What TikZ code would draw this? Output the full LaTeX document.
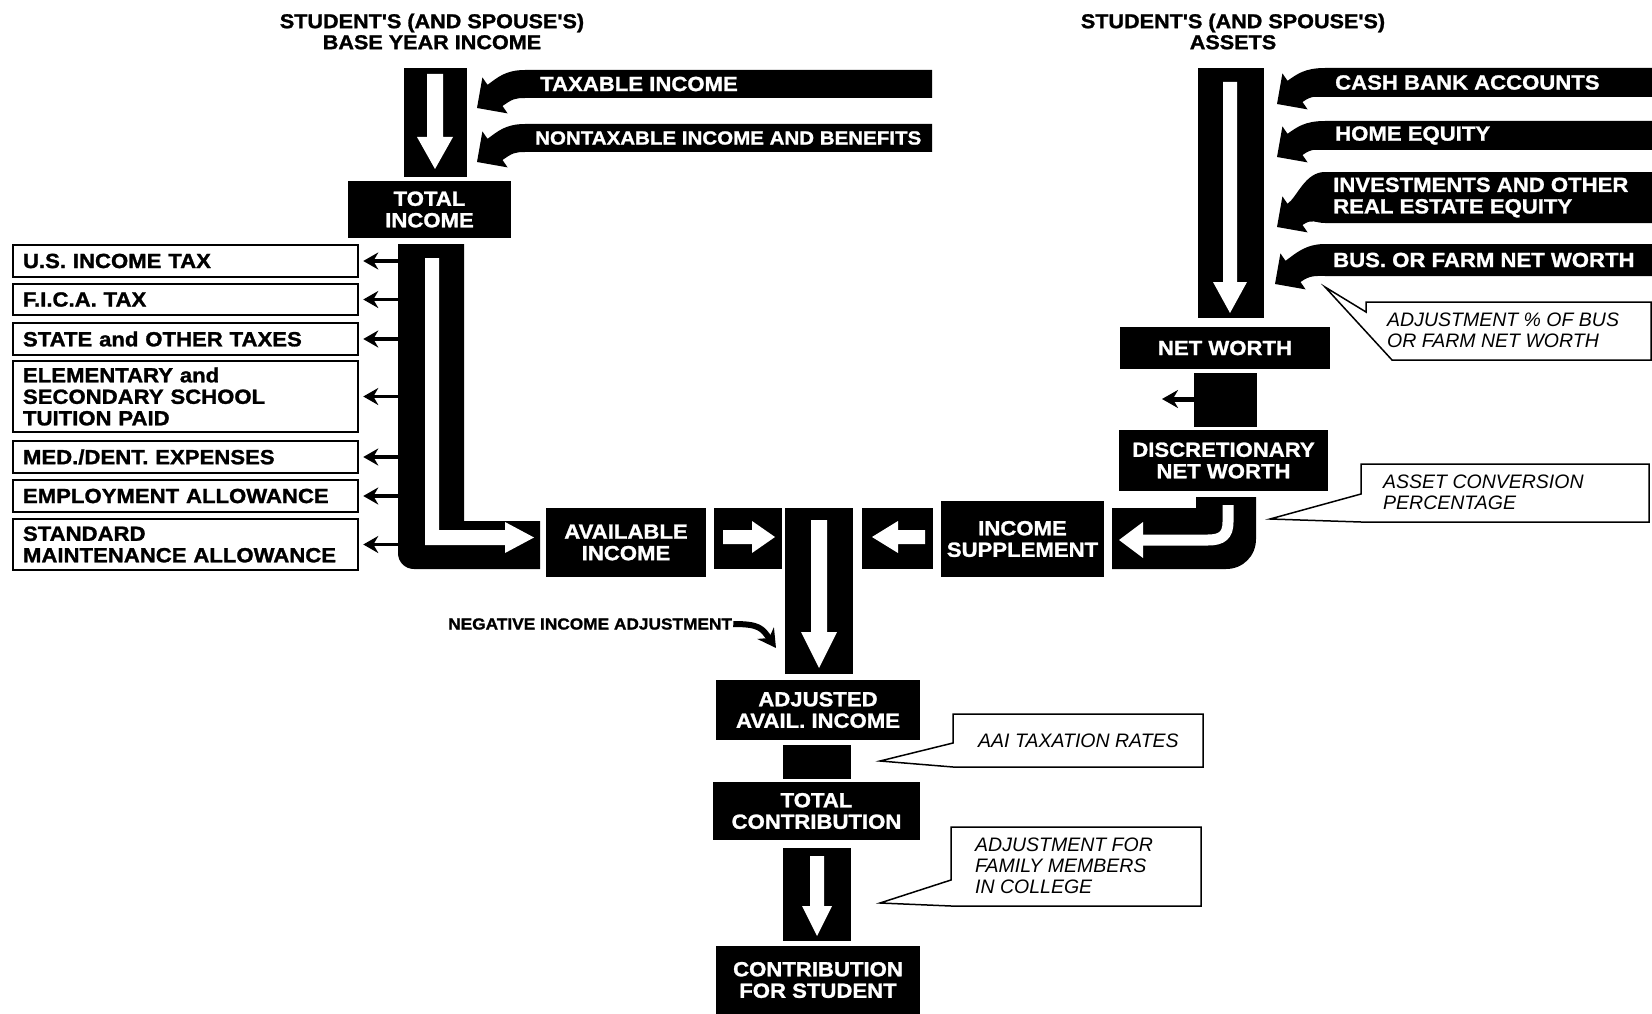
\documentclass[tikz,border=0pt]{standalone}
\usepackage{fontspec}
\newfontfamily\hv{Liberation Sans}[FakeStretch=1.08,FakeBold=1.3]
\newfontfamily\hvi{Liberation Sans}
\usetikzlibrary{arrows.meta}
% white block arrows
\newcommand\dnarr[6]{\fill[white] ({#1-#5},#2) -- ({#1+#5},#2) -- ({#1+#5},#3) -- ({#1+#6},#3) -- (#1,#4) -- ({#1-#6},#3) -- ({#1-#5},#3) -- cycle;}
\newcommand\hzarr[6]{\fill[white] (#2,{#1-#5}) -- (#3,{#1-#5}) -- (#3,{#1-#6}) -- (#4,#1) -- (#3,{#1+#6}) -- (#3,{#1+#5}) -- (#2,{#1+#5}) -- cycle;}
% black band with curved head: xR, T, B, xL, Ex, Ey
\newcommand\bandarr[6]{\fill (#1,#2) -- (#4,#2) .. controls ({#4-20},#2) and ({#5+2.3},{#6-17.5}) .. ({#5-7.5},{#6-10.6}) -- ({#5-12.6},{#6-18}) -- ({#5-18},{#6+12.6}) -- ({#5+12.6},{#6+18}) -- ({#5+7.5},{#6+10.6}) .. controls ({#5+17.3},{#6+3.7}) and ({#4-10},#3) .. (#4,#3) -- (#1,#3) -- cycle;}
\begin{document}
\begin{tikzpicture}[x=1pt,y=-1pt,
  boxfont/.style={font=\hv\bfseries\fontsize{20.5}{21.5}\selectfont},
  blk/.style={boxfont, fill=black, text=white, inner sep=0pt, align=center},
  ded/.style={boxfont, draw=black, line width=2.5pt, fill=white, text=black, inner xsep=10pt, inner ysep=0pt, text width=325pt, align=left},
  bandtxt/.style={boxfont, text=white, inner sep=0pt, anchor=west, align=left},
  ttl/.style={font=\hv\bfseries\fontsize{20}{21}\selectfont, align=center, inner sep=0pt},
  ctxt/.style={font=\hvi\itshape\fontsize{19.5}{21}\selectfont, align=left, anchor=west, inner sep=0pt},
  callout/.style={draw=black, line width=1.5pt, fill=white, line join=miter},
  dedarr/.style={line width=3.5pt, -{Stealth[length=15pt,width=17pt]}},
  thickarr/.style={line width=5pt, -{Stealth[length=16pt,width=18pt]}}
]
\useasboundingbox (0,0) rectangle (1652,1014);
\fill[white] (0,0) rectangle (1652,1014);

% ---------- titles
\node[ttl] (t1) at (432,31.5) {STUDENT'S (AND SPOUSE'S)\\BASE YEAR INCOME};
\node[ttl] (t2) at (1233,31.5) {STUDENT'S (AND SPOUSE'S)\\ASSETS};

% ---------- income column
\fill (404,68) rectangle (467,177);
\dnarr{435}{74}{137}{169}{8}{18}
\bandarr{932}{70}{98}{525}{495}{95.4}
\bandarr{932}{124}{152}{525}{495}{149.4}
\node[bandtxt] (taxinc) at (540,84) {TAXABLE INCOME};
\node[bandtxt, font=\hv\bfseries\fontsize{19}{20}\selectfont] (nontax) at (535,138) {NONTAXABLE INCOME AND BENEFITS};

\node[blk, minimum width=163pt, minimum height=57pt] (ti) at (429.5,209.5) {TOTAL\\INCOME};

% L bar
\fill (398,244) -- (464,244) -- (464,521) -- (540,521) -- (540,569) -- (414,569) .. controls (405,569) and (398,562) .. (398,553) -- cycle;
\fill[white] (425,258) -- (439,258) -- (439,530) -- (505,530) -- (505,522) -- (534,537.5) -- (505,553) -- (505,545) -- (425,545) -- cycle;
\coordinate (lbx) at (398,0);

% deductions
\node[ded, minimum height=32pt] (us) at (185.5,261) {U.S. INCOME TAX};
\node[ded, minimum height=31pt] (fica) at (185.5,299.5) {F.I.C.A. TAX};
\node[ded, minimum height=32pt] (state) at (185.5,339) {STATE and OTHER TAXES};
\node[ded, minimum height=71pt] (elem) at (185.5,396.5) {ELEMENTARY and\\SECONDARY SCHOOL\\TUITION PAID};
\node[ded, minimum height=32pt] (med) at (185.5,457) {MED./DENT. EXPENSES};
\node[ded, minimum height=32pt] (emp) at (185.5,496) {EMPLOYMENT ALLOWANCE};
\node[ded, minimum height=51pt] (std) at (185.5,544.5) {STANDARD\\MAINTENANCE ALLOWANCE};
\foreach \n in {us,fica,state,elem,med,emp,std}
  \draw[dedarr] (\n.east -| lbx) -- ([xshift=4pt]\n.east);

% available income row
\node[blk, minimum width=160pt, minimum height=69pt] (ai) at (626,542.5) {AVAILABLE\\INCOME};
\fill (714,508) rectangle (782,569);
\hzarr{537}{723}{752}{775}{7}{16}
\fill (785,508) rectangle (853,674);
\dnarr{819}{520}{632}{668}{8}{18}
\fill (862,508) rectangle (933,569);
\hzarr{537}{925}{898}{872}{7}{16}
\node[blk, minimum width=163pt, minimum height=76pt] (is) at (1022.5,539) {INCOME\\SUPPLEMENT};
% hook box
\fill (1112,508) -- (1196,508) -- (1196,497) -- (1256,497) -- (1256,539) .. controls (1256,556) and (1243,569) .. (1226,569) -- (1112,569) -- cycle;
\draw[white, line width=11pt] (1228,505) -- (1228,522) .. controls (1228,535) and (1222,540) .. (1208,540) -- (1141,540);
\fill[white] (1143,522) -- (1119,540) -- (1143,558) -- cycle;

% ---------- assets column
\fill (1198,68) rectangle (1264,318);
\dnarr{1230}{82}{282}{313}{7}{17}
\bandarr{1652}{68}{97}{1325}{1295}{91.4}
\bandarr{1652}{121}{150}{1325}{1295}{144.4}
\bandarr{1652}{172}{223}{1325}{1295}{214.4}
\bandarr{1652}{244}{276}{1325}{1293}{271.4}
\node[bandtxt] (cash) at (1335,82.5) {CASH BANK ACCOUNTS};
\node[bandtxt] (home) at (1335,135.5) {HOME EQUITY};
\node[bandtxt] (inv) at (1333,197.5) {INVESTMENTS AND OTHER\\REAL ESTATE EQUITY};
\node[bandtxt] (bus) at (1333,260) {BUS. OR FARM NET WORTH};

\node[blk, minimum width=210pt, minimum height=42pt] (nw) at (1225,348) {NET WORTH};
\fill (1194,373) rectangle (1257,427);
\coordinate (nwtip) at (1162,399);
\draw[thickarr] (1194,399) -- (nwtip);
\node[blk, minimum width=209pt, minimum height=61pt] (dnw) at (1223.5,460.5) {DISCRETIONARY\\NET WORTH};

% callouts
\draw[callout] (1366,302) -- (1651,302) -- (1651,360) -- (1392,360) -- (1325,287) -- (1366,312) -- cycle;
\node[ctxt] (c1) at (1387,330.5) {ADJUSTMENT \% OF BUS\\OR FARM NET WORTH};
\draw[callout] (1361,464) -- (1649,464) -- (1649,522) -- (1361,522) -- (1270,519) -- (1361,494) -- cycle;
\node[ctxt] (c2) at (1383,492) {ASSET CONVERSION\\PERCENTAGE};

% ---------- bottom column
\node[anchor=west, inner sep=0pt, font=\hv\bfseries\fontsize{16}{17}\selectfont] (neg) at (448,624) {NEGATIVE INCOME ADJUSTMENT};
\coordinate (negtip) at (776,648);
\draw[line width=6pt, -{Stealth[length=18pt,width=20pt]}] ([xshift=1pt]neg.east) .. controls +(26,0) and +(-14,-20) .. (negtip);

\node[blk, minimum width=204pt, minimum height=60pt] (aai) at (818,710) {ADJUSTED\\AVAIL. INCOME};
\fill (783,745) rectangle (851,779);
\node[blk, minimum width=207pt, minimum height=58pt] (tc) at (816.5,811) {TOTAL\\CONTRIBUTION};
\fill (783,848) rectangle (851,941);
\dnarr{817}{856}{906}{936}{7}{15}
\node[blk, minimum width=204pt, minimum height=68pt] (cfs) at (818,980) {CONTRIBUTION\\FOR STUDENT};

\draw[callout] (953,714) -- (1203,714) -- (1203,767) -- (953,767) -- (880,761) -- (953,743) -- cycle;
\node[ctxt] (c3) at (978,741) {AAI TAXATION RATES};
\draw[callout] (951,827) -- (1201,827) -- (1201,906) -- (951,906) -- (880,903) -- (951,880) -- cycle;
\node[ctxt] (c4) at (975,866) {ADJUSTMENT FOR\\FAMILY MEMBERS\\IN COLLEGE};
\end{tikzpicture}
\end{document}
